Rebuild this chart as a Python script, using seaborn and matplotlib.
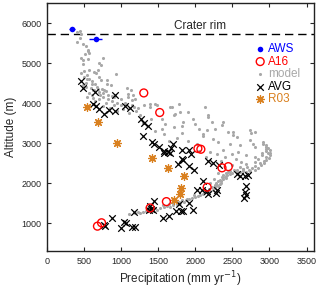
import matplotlib
matplotlib.use("Agg")
import matplotlib.pyplot as plt
import seaborn as sns

# AWS (blue, with horizontal error bars)
aws_p = [335, 655]
aws_z = [5865, 5615]
aws_err = [40, 85]

# A16 (red open circles)
a16_p = [680, 735, 1390, 1610, 2160, 2360, 2445, 2035, 2075, 1305, 1520]
a16_z = [925, 1010, 1380, 1540, 1900, 2385, 2415, 2870, 2850, 4260, 3770]

# R03 (orange asterisks)
r03_p = [540, 690, 940, 1410, 1625, 1850, 1810, 1795, 1710]
r03_z = [3910, 3525, 3010, 2640, 2390, 2175, 1870, 1740, 1590]

# AVG (black crosses)
avg_p = [456, 491, 648, 916, 626, 661, 706, 768, 835, 916, 1055, 1120, 1265, 1305,
         1368, 1294, 1420, 1448, 1505, 1573, 1631, 1676, 1693, 1819, 1819, 1582,
         1662, 1921, 1940, 1832, 1760, 1921, 1984, 2176, 2243, 2323, 2556, 2600,
         2668, 2712, 2681, 2668, 2681, 2654, 2109, 2028, 2087, 2154, 2176, 2296,
         2279, 1439, 1394, 1372, 1430, 1774, 1921, 1975, 1743, 1806, 1840, 1564,
         1640, 880, 1170, 1037, 1059, 992, 1149, 1180, 768, 782, 1403]
avg_z = [4558, 4392, 4290, 4220, 3992, 3933, 3867, 3742, 3842, 3800, 3938, 3888, 3617, 3520,
         3430, 3180, 3020, 2975, 2900, 2808, 2783, 2883, 2992, 2820, 2617, 2758,
         2758, 2825, 2742, 2575, 2492, 2425, 2325, 2558, 2508, 2450, 2242, 2175,
         2175, 2200, 1925, 1783, 1700, 1642, 2058, 1842, 1842, 1808, 1725, 1825,
         1758, 1558, 1425, 1342, 1342, 1492, 1508, 1342, 1308, 1308, 1308, 1117,
         1175, 1125, 1275, 1033, 992, 867, 892, 892, 950, 925, 1367]

# model (gray dots)
model_p = [440, 410, 460, 438, 406, 483, 523, 547, 550, 572, 513, 460, 483, 558, 750, 706,
           483, 724, 505, 572, 639, 693, 657, 929, 505, 572, 701, 728, 808, 808, 862, 540,
           600, 460, 520, 1081, 650,
           684, 617, 768, 1086, 1153, 1095, 1149, 1172, 1126, 1193, 1305, 1394, 1394, 1461,
           1484, 560, 540, 600, 720, 760, 820, 700, 650, 880, 950, 800, 1000, 900, 760, 850,
           1020, 950, 1200, 1100, 1250, 620, 900, 1000,
           1662, 1685, 1774, 1729, 1796, 1908, 1707, 1551, 1595, 1707, 1551, 1752, 1582, 1840,
           1819, 1819, 1997, 1975, 2131, 2167, 2176, 2221, 2163, 2109, 2109, 2265, 2355, 2377,
           2444, 2502, 2511, 2556, 2243, 2735, 2757, 2802, 2735, 2779, 2802, 2913, 2958, 2020,
           2310, 2467, 2578, 2489, 2690, 2802, 2198, 2288, 2377, 2623, 2690, 2802, 1450, 1650,
           1900, 2050, 2150, 2400, 2550, 2900, 2500, 2350, 1300, 1400, 2050, 2600,
           1100, 1180, 1260, 1300, 1340, 1420, 1484, 1530, 1580, 1620, 1662, 1700, 1750, 1800,
           1850, 1886, 1920, 1960, 2000, 2064, 2100, 2150, 2200, 2243, 2270, 2300, 2332, 2350,
           2380, 2400, 2430, 2467, 2500, 2556, 2600, 2650, 2690, 2740, 2802, 2850, 2891, 2930,
           2958, 2990, 3003, 3010, 3003, 2985, 2958, 2913,
           1560, 1700, 1820, 1980, 2120, 2260, 2310, 2360, 2420, 2520, 2640, 2760, 2870, 2950,
           2220, 2280, 2380, 2200, 2250, 2300, 2600, 2700, 2850, 2950,
           1230, 1380, 1460, 1640, 1780, 1870, 2030, 2180, 2330, 2410, 2470, 2560, 2720, 2800,
           2920, 2980, 2340, 2290, 2440, 2900, 2960, 2270, 2420, 2650,
           480, 530, 590, 640, 700, 760, 820, 880, 540, 610, 670, 740, 800, 1050, 1150, 1230]
model_z = [5820, 5780, 5725, 5642, 5533, 5492, 5425, 5325, 5300, 5258, 5240, 5142, 5092, 5117,
           5142, 5008, 4992, 4950, 4808, 4825, 4783, 4825, 4760, 4725, 4658, 4617, 4658, 4575,
           4592, 4475, 4450, 4700, 4560, 4750, 4520, 4392, 4480,
           4367, 4325, 4325, 4242, 4200, 4158, 4075, 3908, 4325, 4117, 3950, 3908, 3992, 3992,
           3950, 4250, 4150, 4200, 4220, 4150, 4100, 4100, 4050, 4050, 4000, 4000, 3950, 3950,
           3930, 3880, 3850, 3800, 3820, 3760, 3700, 4130, 4150, 4100,
           3908, 3908, 3992, 3742, 3783, 3783, 3700, 3617, 3492, 3408, 3367, 3142, 3242, 3533,
           3425, 3258, 3492, 3617, 3908, 3700, 3658, 3533, 3342, 3242, 3175, 3367, 3450, 3533,
           3283, 3283, 3200, 3158, 3117, 3325, 3258, 3283, 3075, 2992, 2908, 2992, 2908, 2992,
           3033, 2992, 2783, 2742, 2700, 2658, 2783, 2742, 2825, 2533, 2492, 2533, 3300, 3050,
           3050, 2800, 2650, 2650, 2600, 2750, 2450, 2550, 3500, 3600, 3350, 2950,
           1230, 1250, 1258, 1280, 1300, 1330, 1342, 1370, 1400, 1420, 1408, 1450, 1480, 1500,
           1530, 1617, 1600, 1640, 1660, 1700, 1730, 1780, 1800, 1825, 1880, 1930, 1992, 2050,
           2100, 2158, 2200, 2242, 2260, 2283, 2290, 2300, 2283, 2310, 2325, 2380, 2450, 2510,
           2575, 2640, 2700, 2760, 2825, 2890, 2950, 3033,
           1450, 1510, 1570, 1700, 1800, 1950, 2050, 2150, 2250, 2330, 2360, 2380, 2500, 2650,
           1900, 2000, 2200, 2000, 2100, 2250, 2400, 2400, 2600, 2800,
           1280, 1360, 1380, 1470, 1540, 1580, 1690, 1850, 2080, 2190, 2310, 2340, 2340, 2420,
           2560, 2760, 2000, 1950, 2280, 2700, 2850, 1920, 2120, 2350,
           4450, 4400, 4380, 4330, 4280, 4260, 4210, 4180, 4600, 4480, 4420, 4350, 4300, 4020, 3960, 3880]

crater_rim = 5730
orange = "#d9801f"

sns.set_style("ticks")
plt.rcParams["font.family"] = ["Liberation Sans", "DejaVu Sans"]

fig, ax = plt.subplots(figsize=(3.2, 2.88), dpi=100)
fig.subplots_adjust(left=0.147, right=0.981, top=0.988, bottom=0.128)

ax.axhline(crater_rim, color="k", lw=1, ls=(0, (6, 3.5)), zorder=1)
ax.text(2064, crater_rim + 60, "Crater rim", ha="center", va="bottom", fontsize=8.5)

sns.scatterplot(x=model_p, y=model_z, ax=ax, color="#a8a8a8", s=5, linewidth=0,
                label="model", zorder=2)
sns.scatterplot(x=avg_p, y=avg_z, ax=ax, color="k", marker="x", s=22, linewidth=0.9,
                label="AVG", zorder=3)
sns.scatterplot(x=r03_p, y=r03_z, ax=ax, color=orange, marker=(8, 2, 0), s=32,
                linewidth=0.9, label="R03", zorder=3)
sns.scatterplot(x=a16_p, y=a16_z, ax=ax, marker="o", s=32, facecolor="none",
                edgecolor="red", linewidth=1, label="A16", zorder=4)
ax.errorbar(aws_p, aws_z, xerr=aws_err, fmt="none", ecolor="blue", elinewidth=1,
            capsize=0, zorder=4)
sns.scatterplot(x=aws_p, y=aws_z, ax=ax, color="blue", s=16, linewidth=0,
                label="AWS", zorder=5)

ax.set_xlim(0, 3600)
ax.set_ylim(300, 6500)
ax.set_xticks(range(0, 3501, 500))
ax.set_yticks(range(1000, 6001, 1000))
ax.tick_params(direction="in", top=True, right=True, labelsize=6.5, length=3,
               width=0.8, pad=4)
for s in ax.spines.values():
    s.set_linewidth(1)
    s.set_color("#222222")

ax.set_xlabel("Precipitation (mm yr$^{-1}$)", fontsize=8.5, labelpad=3)
ax.set_ylabel("Altitude (m)", fontsize=8.5, labelpad=3)

h, l = ax.get_legend_handles_labels()
order = [l.index(n) for n in ["AWS", "A16", "model", "AVG", "R03"]]
cols = ["blue", "red", "#a8a8a8", "k", orange]
ax.legend([h[i] for i in order], [l[i] for i in order], loc="upper right",
          bbox_to_anchor=(0.95, 0.84), frameon=False, fontsize=8.5,
          handletextpad=0.1, labelspacing=0.05, handlelength=1.2,
          borderpad=0, borderaxespad=0, labelcolor=cols)

fig.savefig("out.png", dpi=100)
